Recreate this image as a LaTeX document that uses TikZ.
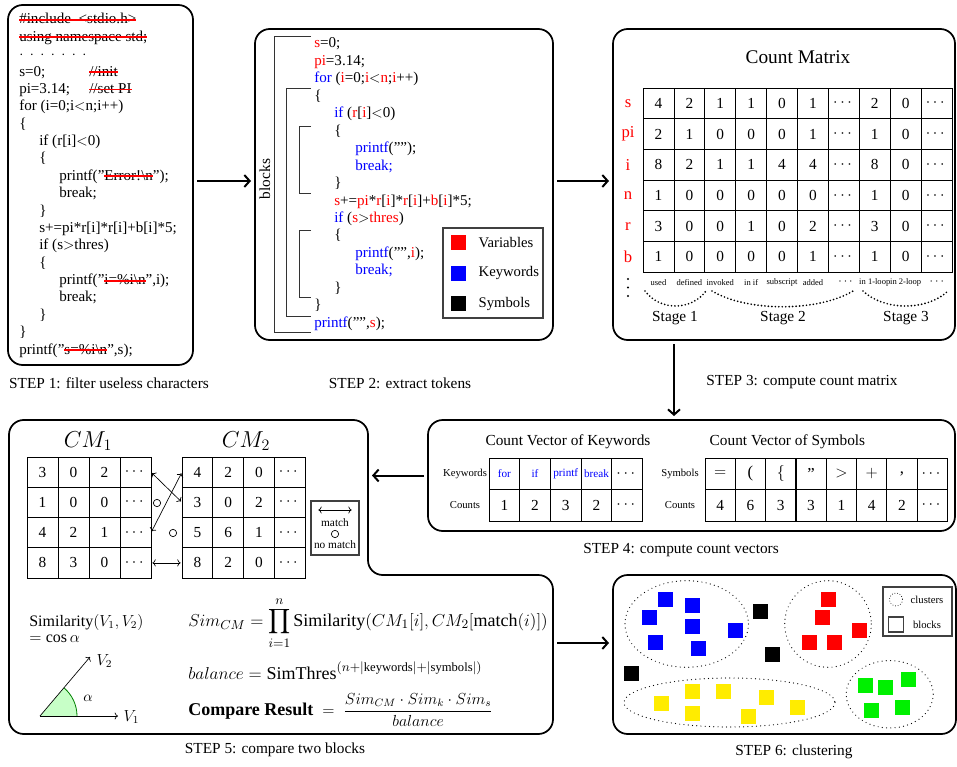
\documentclass[tikz,border=0pt]{standalone}
\usepackage{amsmath}
\usepackage{fontspec}
\setmainfont{Liberation Serif}
\usetikzlibrary{arrows.meta}
\newsavebox\rsbox
\newcommand\rs[1]{\sbox\rsbox{#1}\rlap{\usebox\rsbox}\textcolor{red}{\rule[0.2em]{\wd\rsbox}{1.4pt}}}
\newcommand\fs[1]{\fontsize{#1}{#1}\selectfont}
\definecolor{yel}{RGB}{255,236,0}
\definecolor{grn}{RGB}{0,240,0}
\tikzset{
  stepbox/.style={draw, line width=1.3pt, rounded corners=11pt, inner sep=0pt, outer sep=0pt, anchor=north west},
  code/.style={anchor=base west, inner sep=0pt},
  stepcap/.style={font=\fs{11.5}},
  arr/.style={line width=1.5pt, -{Straight Barb[length=4pt,width=9pt]}, shorten <=3pt, shorten >=3pt},
  cell/.style={draw, line width=0.6pt, inner sep=0pt, outer sep=0pt, font=\fs{11.5}},
  legbox/.style={draw=black!75, line width=0.9pt, inner sep=0pt, outer sep=0pt, anchor=north west},
  dbl/.style={line width=0.5pt, {To[length=2.5pt]}-{To[length=2.5pt]}, shorten <=1pt, shorten >=1pt},
  nomatch/.style={circle, draw, line width=0.5pt, minimum size=5.5pt, inner sep=0pt},
  dotline/.style={line width=0.9pt, dash pattern=on 0pt off 3.2pt, line cap=round},
  stg/.style={line width=1.4pt, dash pattern=on 0pt off 2.6pt, line cap=round},
  brk/.style={line width=0.7pt, black!80},
}
\begin{document}
\begin{tikzpicture}[x=0.75pt, y=-0.75pt, font=\fontsize{11.3}{13}\selectfont]
\useasboundingbox (0,0) rectangle (957,767);

% ---------------- STEP 1 ----------------
\node[stepbox, minimum width=138.75pt, minimum height=270pt] (s1) at (8,5) {};
\node[code] (a1) at (19,24) {\rs{\#include\enspace<stdio.h>}};
\node[code] (a2) at (19,41.37) {\rs{using namespace std;}};
\node[code] (a3) at (19,58.74) {$\cdot\:\cdot\:\cdot\:\cdot\:\cdot\:\cdot\:\cdot$};
\node[code] (a4) at (19,76.11) {s=0;};
\node[code] (a4c) at (89,76.11) {\rs{//init}};
\node[code] (a5) at (19,93.48) {pi=3.14;};
\node[code] (a5c) at (89,93.48) {\rs{//set PI}};
\node[code] (a6) at (19,110.85) {for (i=0;i$<$n;i++)};
\node[code] (a7) at (19,128.22) {\{};
\node[code] (a8) at (39,145.59) {if (r[i]$<$0)};
\node[code] (a9) at (39,162.96) {\{};
\node[code] (a10) at (59,180.33) {printf(”\rs{Error!\textbackslash n}”);};
\node[code] (a11) at (59,197.7) {break;};
\node[code] (a12) at (39,215.07) {\}};
\node[code] (a13) at (39,232.44) {s+=pi*r[i]*r[i]+b[i]*5;};
\node[code] (a14) at (39,249.81) {if (s$>$thres)};
\node[code] (a15) at (39,267.18) {\{};
\node[code] (a16) at (59,284.55) {printf(”\rs{i=\%i\textbackslash n}”,i);};
\node[code] (a17) at (59,301.92) {break;};
\node[code] (a18) at (39,319.29) {\}};
\node[code] (a19) at (19,336.66) {\}};
\node[code] (a20) at (19,354.03) {printf(”\rs{s=\%i\textbackslash n}”,s);};
\node[stepcap] (c1) at (109,383) {STEP 1: filter useless characters};

% ---------------- STEP 2 ----------------
\node[stepbox, minimum width=223.5pt, minimum height=233.25pt] (s2) at (255,29) {};
\node[code] (b1) at (314,48) {\textcolor{red}{s}=0;};
\node[code] (b2) at (314,65.45) {\textcolor{red}{pi}=3.14;};
\node[code] (b3) at (314,82.9) {\textcolor{blue}{for} (\textcolor{red}{i}=0;\textcolor{red}{i}$<$\textcolor{red}{n};\textcolor{red}{i}++)};
\node[code] (b4) at (314,100.35) {\{};
\node[code] (b5) at (334,117.8) {\textcolor{blue}{if} (\textcolor{red}{r}[\textcolor{red}{i}]$<$0)};
\node[code] (b6) at (334,135.25) {\{};
\node[code] (b7) at (355,152.7) {\textcolor{blue}{printf}(””);};
\node[code] (b8) at (355,170.15) {\textcolor{blue}{break;}};
\node[code] (b9) at (334,187.6) {\}};
\node[code] (b10) at (334,205.05) {\textcolor{red}{s}+=\textcolor{red}{pi}*\textcolor{red}{r}[\textcolor{red}{i}]*\textcolor{red}{r}[\textcolor{red}{i}]+\textcolor{red}{b}[\textcolor{red}{i}]*5;};
\node[code] (b11) at (334,222.5) {\textcolor{blue}{if} (\textcolor{red}{s}$>$\textcolor{red}{thres})};
\node[code] (b12) at (334,239.95) {\{};
\node[code] (b13) at (355,257.4) {\textcolor{blue}{printf}(””,\textcolor{red}{i});};
\node[code] (b14) at (355,274.85) {\textcolor{blue}{break;}};
\node[code] (b15) at (334,292.3) {\}};
\node[code] (b16) at (314,309.75) {\}};
\node[code] (b17) at (314,327.2) {\textcolor{blue}{printf}(””,\textcolor{red}{s});};
\draw[brk] (311,36) -| (274,332) -- (311,332);
\draw[brk] (311,88) -| (286,316) -- (311,316);
\draw[brk] (311,126) -| (299,193) -- (311,193);
\draw[brk] (311,230) -| (299,297) -- (311,297);
\node[rotate=90, font=\fs{11.5}] (blk) at (265,179) {blocks};
\node[legbox, minimum width=75pt, minimum height=67.5pt] (lg2) at (443,228) {};
\fill[red] (451,235) rectangle (466,250);
\fill[blue] (451,265.5) rectangle (466,280.5);
\fill[black] (451,296) rectangle (466,311);
\node[anchor=west, font=\fs{11}] (lv) at (474,243) {Variables};
\node[anchor=west, font=\fs{11}] (lk) at (474,273) {Keywords};
\node[anchor=west, font=\fs{11}] (ls) at (474,304) {Symbols};
\node[stepcap] (c2) at (400,383) {STEP 2: extract tokens};

% ---------------- STEP 3 ----------------
\node[stepbox, minimum width=256.5pt, minimum height=233.25pt] (s3) at (613,29) {};
\node[font=\fs{14.5}] (cmt) at (798,57) {Count Matrix};
\foreach \row [count=\r] in {
  {4,2,1,1,0,1,$\cdots$,2,0,$\cdots$},
  {2,1,0,0,0,1,$\cdots$,1,0,$\cdots$},
  {8,2,1,1,4,4,$\cdots$,8,0,$\cdots$},
  {1,0,0,0,0,0,$\cdots$,1,0,$\cdots$},
  {3,0,0,1,0,2,$\cdots$,3,0,$\cdots$},
  {1,0,0,0,0,1,$\cdots$,1,0,$\cdots$}}
  \foreach \v [count=\c] in \row
    \node[cell, minimum width=23.18pt, minimum height=23.03pt] (cm-\r-\c) at ({643+30.9*(\c-0.5)},{88+30.7*(\r-0.5)}) {\v};
\foreach \t [count=\k] in {s,pi,i,n,r,b}
  \node[text=red, font=\fs{12.5}] (rl\k) at ([xshift=-11.25pt]cm-\k-1.west) {\t};
\foreach \t [count=\k] in {used,defined,invoked,in if,subscript,added,{},in 1-loop,in 2-loop,{}}
  \node[font=\fs{6.4}] (cl\k) at ([yshift=-7.5pt]cm-6-\k.south) {\t};
\node[font=\fs{9}] (cd7) at ([xshift=2pt]cl7) {$\cdots$};
\node[font=\fs{9}] (cd10) at ([xshift=1pt]cl10) {$\cdots$};
\foreach \yy in {279,287.5,296} \fill (628,\yy) circle [radius=1.1];
\draw[stg] (645,291) .. controls (660,311) and (691,311) .. (706,291);
\draw[stg] (712,291) .. controls (747,312) and (818,312) .. (853,291);
\draw[stg] (863,291) .. controls (884,311) and (927,311) .. (948,291);
\node[font=\fs{11.5}] (st1) at (675,318) {Stage 1};
\node[font=\fs{11.5}] (st2) at (783,318) {Stage 2};
\node[font=\fs{11.5}] (st3) at (906,318) {Stage 3};
\node[stepcap] (c3) at (802,382) {STEP 3: compute count matrix};

% ---------------- STEP 4 ----------------
\node[stepbox, minimum width=395.25pt, minimum height=83.25pt] (s4) at (428,420) {};
\node[font=\fs{11.5}] (tk) at (568,441.5) {Count Vector of Keywords};
\node[font=\fs{11.5}, anchor=west] (ts) at (705,441.5) {Count Vector of Symbols};
\foreach \v [count=\c] in {for,if,printf,break}
  \node[cell, minimum width=23.0pt, minimum height=23.6pt, font=\fs{8.4}, text=blue] (kw-1-\c) at ({489+30.7*(\c-0.5)},473.75) {\v};
\node[cell, minimum width=23.0pt, minimum height=23.6pt] (kw-1-5) at ({489+30.7*4.5},473.75) {$\cdots$};
\foreach \v [count=\c] in {1,2,3,2,$\cdots$}
  \node[cell, minimum width=23.0pt, minimum height=23.6pt] (kw-2-\c) at ({489+30.7*(\c-0.5)},505.25) {\v};
\node[cell, minimum width=22.7pt, minimum height=23.6pt, font=\fs{12.5}] (sy-1-1) at ({705+30.3*0.5},473.75) {$=$};
\node[cell, minimum width=22.7pt, minimum height=23.6pt, font=\fs{12.5}] (sy-1-2) at ({705+30.3*1.5},473.75) {(};
\node[cell, minimum width=22.7pt, minimum height=23.6pt, font=\fs{12.5}] (sy-1-3) at ({705+30.3*2.5},473.75) {$\{$};
\node[cell, minimum width=22.7pt, minimum height=23.6pt, font=\fs{12.5}] (sy-1-4) at ({705+30.3*3.5},473.75) {”};
\node[cell, minimum width=22.7pt, minimum height=23.6pt, font=\fs{12.5}] (sy-1-5) at ({705+30.3*4.5},473.75) {$>$};
\node[cell, minimum width=22.7pt, minimum height=23.6pt, font=\fs{12.5}] (sy-1-6) at ({705+30.3*5.5},473.75) {$+$};
\node[cell, minimum width=22.7pt, minimum height=23.6pt, font=\fs{12.5}] (sy-1-7) at ({705+30.3*6.5},473.75) {,};
\node[cell, minimum width=22.7pt, minimum height=23.6pt] (sy-1-8) at ({705+30.3*7.5},473.75) {$\cdots$};
\foreach \v [count=\c] in {4,6,3,3,1,4,2,$\cdots$}
  \node[cell, minimum width=22.7pt, minimum height=23.6pt] (sy-2-\c) at ({705+30.3*(\c-0.5)},505.25) {\v};
\node[font=\fs{8}] (kl1) at ([xshift=-18pt]kw-1-1.west) {Keywords};
\node[font=\fs{8}] (kl2) at ([xshift=-18pt]kw-2-1.west) {Counts};
\node[font=\fs{8}] (sl1) at ([xshift=-18.75pt]sy-1-1.west) {Symbols};
\node[font=\fs{8}] (sl2) at ([xshift=-18.75pt]sy-2-1.west) {Counts};
\node[stepcap] (c4) at (681,550) {STEP 4: compute count vectors};

% ---------------- STEP 5 ----------------
\draw[line width=1.3pt, rounded corners=11pt] (9,420) -- (368,420) -- (368,575) -- (553,575) -- (553,734) -- (9,734) -- cycle;
\coordinate (s5in) at (368,475.5);
\coordinate (s5out) at (553,643);
\node[font=\fs{17}] (cm1l) at (88,441) {$CM_1$};
\node[font=\fs{17}] (cm2l) at (246,441) {$CM_2$};
\foreach \row [count=\r] in {{3,0,2,$\cdots$},{1,0,0,$\cdots$},{4,2,1,$\cdots$},{8,3,0,$\cdots$}}
  \foreach \v [count=\c] in \row
    \node[cell, minimum width=23.25pt, minimum height=22.69pt] (ma-\r-\c) at ({27+31*(\c-0.5)},{457+30.25*(\r-0.5)}) {\v};
\foreach \row [count=\r] in {{4,2,0,$\cdots$},{3,0,2,$\cdots$},{5,6,1,$\cdots$},{8,2,0,$\cdots$}}
  \foreach \v [count=\c] in \row
    \node[cell, minimum width=23.06pt, minimum height=22.69pt] (mb-\r-\c) at ({182+30.75*(\c-0.5)},{457+30.25*(\r-0.5)}) {\v};
\draw[dbl] (ma-1-4.east) -- (mb-2-1.west);
\draw[dbl] (mb-1-1.west) -- (ma-3-4.east);
\draw[dbl] (ma-4-4.east) -- (mb-4-1.west);
\node[nomatch] (nm1) at (157,503) {};
\node[nomatch] (nm2) at (173,533) {};
\node[legbox, minimum width=36pt, minimum height=40.5pt] (lg5) at (311,501) {};
\coordinate (lma) at (317,510);
\coordinate (lmb) at (353,510);
\draw[dbl] (lma) -- (lmb);
\node[font=\fs{8.5}] (lm) at (335,523) {match};
\node[nomatch] (lc) at (335,534) {};
\node[font=\fs{8.5}] (lnm) at (335,544.5) {no match};

\node[anchor=west, inner sep=0pt, font=\fs{12}] (simv) at (29,622) {Similarity$(V_1,V_2)$};
\node[anchor=west, inner sep=0pt, font=\fs{12}] (cosa) at (29,639) {$=\cos\alpha$};
\coordinate (O) at (40,716);
\coordinate (v1e) at (118,716);
\coordinate (v2e) at (90,657);
\fill[green!22] (O) -- ++(37,0) arc[start angle=0, end angle=-49.7, radius=37] -- cycle;
\draw[green!50!black, line width=0.6pt] ([xshift=27.75pt]O) arc[start angle=0, end angle=-49.7, radius=37];
\draw[line width=0.5pt, -{To[length=2.5pt]}] (O) -- (v1e);
\draw[line width=0.5pt, -{To[length=2.5pt]}] (O) -- (v2e);
\node[anchor=west, font=\fs{12}] (v1l) at (119,717) {$V_1$};
\node[anchor=west, font=\fs{12}] (v2l) at (92,661) {$V_2$};
\node[font=\fs{11}] (al) at (88,698) {$\alpha$};

\node[anchor=west, inner sep=0pt, font=\fs{12.5}] (simcm) at (188,623) {\scalebox{1.08}{$\displaystyle Sim_{CM}=\prod_{i=1}^{n}\text{Similarity}(CM_1[i],CM_2[\text{match}(i)])$}};
\node[anchor=west, inner sep=0pt, font=\fs{12.5}] (bal) at (188,671) {\scalebox{1.08}{$balance=\text{SimThres}^{(n+|\text{keywords}|+|\text{symbols}|)}$}};
\node[anchor=west, inner sep=0pt, font=\fs{12}] (cmp) at (188,710) {{\fs{13.5}\textbf{Compare Result}}$\;{}={}\;\dfrac{Sim_{CM}\cdot Sim_k\cdot Sim_s}{balance}$};
\node[stepcap] (c5) at (275,750) {STEP 5: compare two blocks};

% ---------------- STEP 6 ----------------
\node[stepbox, minimum width=257.25pt, minimum height=119.25pt] (s6) at (613,575) {};
\draw[dotline] (686.7,624) ellipse [x radius=61.7, y radius=43.3];
\draw[dotline] (828,624) ellipse [x radius=43.3, y radius=43.3];
\draw[dotline] (729.5,702.5) ellipse [x radius=105.5, y radius=24.5];
\draw[dotline] (889.7,694.3) ellipse [x radius=43.5, y radius=33.7];
\foreach \x/\y in {658.3/591.7, 685/598.3, 641.7/610, 685/619.3, 728.3/623.3, 648.3/635, 691/641}
  \fill[blue] (\x,\y) rectangle ++(15,15);
\foreach \x/\y in {753.3/604, 765/647.3, 624/666}
  \fill[black] (\x,\y) rectangle ++(15,15);
\foreach \x/\y in {821/592.3, 815/610, 852/623.3, 802/635, 827/635}
  \fill[red] (\x,\y) rectangle ++(15,15);
\foreach \x/\y in {654/696, 685/684, 716/684, 759/690, 790/700, 685/706, 741/709}
  \fill[yel] (\x,\y) rectangle ++(15,15);
\foreach \x/\y in {857.7/678.3, 877.7/680, 901/672.3, 864/703.3, 895/700}
  \fill[grn] (\x,\y) rectangle ++(15,15);
\node[legbox, minimum width=51.75pt, minimum height=36.75pt] (lg6) at (883,587) {};
\draw[dotline, line width=0.7pt, dash pattern=on 0pt off 2pt] (896,599.5) circle [radius=6.5];
\node[font=\fs{8}] (lcl) at (927,599.5) {clusters};
\node[draw=black!75, line width=0.9pt, minimum size=11.25pt, inner sep=0pt] (lbk) at (896,624.5) {};
\node[font=\fs{8}] (lbl) at (927,624.5) {blocks};
\node[stepcap] (c6) at (794,752) {STEP 6: clustering};

% ---------------- connectors ----------------
\draw[arr] (s1.east |- 0,181) -- (s2.west |- 0,181);
\draw[arr] (s2.east |- 0,181) -- (s3.west |- 0,181);
\coordinate (d3) at (674,340);
\draw[arr] (d3) -- (d3 |- s4.north);
\draw[arr] (s4.west) -- (s5in);
\draw[arr] (s5out) -- (s5out -| s6.west);
\end{tikzpicture}
\end{document}
